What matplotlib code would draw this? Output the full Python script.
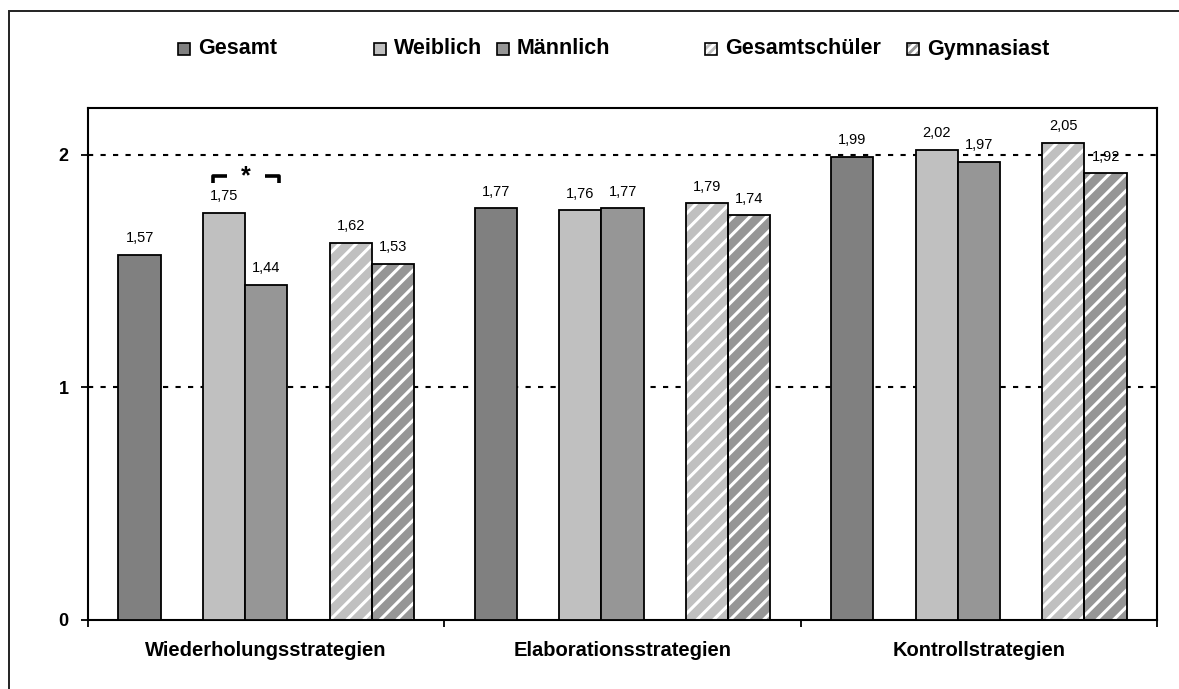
import numpy as np
import matplotlib.pyplot as plt
from matplotlib.patches import Rectangle

plt.rcParams['font.family'] = ['Liberation Sans', 'DejaVu Sans']
plt.rcParams['hatch.linewidth'] = 2.2

# --- data ---
categories = ['Wiederholungsstrategien', 'Elaborationsstrategien', 'Kontrollstrategien']
series_names = ['Gesamt', 'Weiblich', 'Männlich', 'Gesamtschüler', 'Gymnasiast']
gesamt = [1.57, 1.77, 1.99]
weiblich = [1.75, 1.76, 2.02]
maennlich = [1.44, 1.77, 1.97]
gesamtschueler = [1.62, 1.79, 2.05]
gymnasiast = [1.53, 1.74, 1.92]
y_ticks = [0, 1, 2]

# --- styling ---
values = [gesamt, weiblich, maennlich, gesamtschueler, gymnasiast]
slots = [0, 2, 3, 5, 6]          # 7 slots per group, two of them empty
colors = ['#808080', '#c0c0c0', '#969696', '#c0c0c0', '#969696']
hatches = [None, None, None, '//', '//']
bar_w = 0.1185
start = 0.0855

W, H = 1179, 689
fig = plt.figure(figsize=(W / 100, H / 100), dpi=100)
ax = fig.add_axes([88 / W, (H - 620) / H, (1157 - 88) / W, (620 - 108) / H])

x = np.arange(len(categories))
for vals, slot, col, hat in zip(values, slots, colors, hatches):
    left = x + start + slot * bar_w
    if hat:
        ax.bar(left, vals, width=bar_w, align='edge', color=col,
               edgecolor='white', linewidth=0, hatch=hat, zorder=2)
        ax.bar(left, vals, width=bar_w, align='edge', facecolor='none',
               edgecolor='black', linewidth=1.3, zorder=3)
    else:
        ax.bar(left, vals, width=bar_w, align='edge', color=col,
               edgecolor='black', linewidth=1.3, zorder=3)
    for xl, v in zip(left, vals):
        ax.annotate(f'{v:.2f}'.replace('.', ','), (xl + bar_w / 2, v),
                    xytext=(0, 9), textcoords='offset points',
                    ha='center', va='baseline', fontsize=10.5, zorder=4)

# dotted reference lines
for yv in y_ticks[1:]:
    ax.axhline(yv, color='black', linestyle=(0, (2.5, 3.5)), linewidth=1.5, zorder=1)

# significance bracket Weiblich vs. Maennlich (first group)
xw = start + 2.5 * bar_w
xm = start + 3.5 * bar_w
b_left, b_right = xw - 0.25 * bar_w, xm + 0.3 * bar_w
arm = 0.33 * bar_w
y_top, y_bot = 1.906, 1.876
ax.plot([b_left, b_left, b_left + arm], [y_bot, y_top, y_top], color='black',
        linewidth=2.6, solid_capstyle='butt', zorder=4)
ax.plot([b_right - arm, b_right, b_right], [y_top, y_top, y_bot], color='black',
        linewidth=2.6, solid_capstyle='butt', zorder=4)
ax.text((b_left + b_right) / 2, y_bot, '*', ha='center', va='baseline',
        fontsize=18, fontweight='bold', zorder=4)

ax.set_xlim(0, len(categories))
ax.set_ylim(0, 2.2)
ax.set_yticks(y_ticks)
ax.set_yticklabels([str(t) for t in y_ticks], fontsize=13, fontweight='bold')
ax.tick_params(axis='y', direction='out', length=5, width=1.3, pad=9)

ax.set_xticks(x + 0.5)
ax.set_xticklabels(categories, fontsize=14.5, fontweight='bold')
ax.set_xticks(np.arange(len(categories) + 1), minor=True)
ax.tick_params(axis='x', which='major', length=0, pad=15)
ax.tick_params(axis='x', which='minor', direction='out', length=5, width=1.3)

for s in ax.spines.values():
    s.set_linewidth(1.5)

# legend, laid out by hand like the original
legend_left = [178, 374, 497, 705, 907]
for name, col, hat, lx in zip(series_names, colors, hatches, legend_left):
    if hat:
        fig.patches.append(Rectangle((lx / W, (H - 55) / H), 12 / W, 12 / H,
                                     transform=fig.transFigure, facecolor=col,
                                     edgecolor='white', linewidth=0, hatch='////'))
        fig.patches.append(Rectangle((lx / W, (H - 55) / H), 12 / W, 12 / H,
                                     transform=fig.transFigure, facecolor='none',
                                     edgecolor='black', linewidth=1.2))
    else:
        fig.patches.append(Rectangle((lx / W, (H - 55) / H), 12 / W, 12 / H,
                                     transform=fig.transFigure, facecolor=col,
                                     edgecolor='black', linewidth=1.2))
    fig.text((lx + 20) / W, (H - 49) / H, name, ha='left', va='center',
             fontsize=15.5, fontweight='bold')

# outer chart frame (cut off at right and bottom)
fig.patches.append(Rectangle((9 / W, -0.5), 2.0, (H - 11) / H + 0.5,
                             transform=fig.transFigure, facecolor='none',
                             edgecolor='#222222', linewidth=1.4))

fig.savefig('out.png', dpi=100)
